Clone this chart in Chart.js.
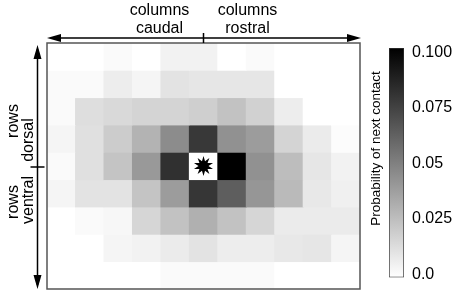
<!DOCTYPE html>
<html lang="en">
  <head>
    <meta charset="utf-8" />
    <title>Probability of next contact</title>
    <style>
      * {
        margin: 0;
        padding: 0;
      }
      body {
        width: 454px;
        height: 295px;
        background: #fff;
        position: relative;
        overflow: hidden;
      }
      #heat {
        position: absolute;
        left: 0;
        top: 0;
      }
      #colorbar {
        position: absolute;
        left: 366px;
        top: 0;
      }
    </style>
  </head>
  <body>
    <canvas id="heat" width="454" height="295"></canvas>
    <canvas id="colorbar" width="88" height="295"></canvas>

    <script src="https://cdn.jsdelivr.net/npm/chart.js"></script>

    <script>
      // data block: columns caudal -> rostral, rows dorsal -> ventral
      const columns = ["-5", "-4", "-3", "-2", "-1", "0", "1", "2", "3", "4", "5"];
      const rowNames = ["4", "3", "2", "1", "0", "-1", "-2", "-3", "-4"];

      const p0 = [0, 0, 0.002, 0, 0.005, 0.005, 0, 0.002, 0, 0, 0];
      const p1 = [0.002, 0.002, 0.007, 0.004, 0.011, 0.01, 0.01, 0.01, 0, 0, 0];
      const p2 = [0.002, 0.013, 0.015, 0.017, 0.017, 0.019, 0.024, 0.018, 0.007, 0, 0];
      const p3 = [0.004, 0.012, 0.02, 0.03, 0.045, 0.078, 0.043, 0.039, 0.017, 0.008, 0.001];
      const p4 = [0.002, 0.012, 0.023, 0.04, 0.081, null, 0.1, 0.043, 0.026, 0.01, 0.005];
      const p5 = [0.004, 0.011, 0.011, 0.023, 0.039, 0.079, 0.063, 0.041, 0.027, 0.009, 0.006];
      const p6 = [0, 0.002, 0.003, 0.016, 0.024, 0.031, 0.024, 0.016, 0.008, 0.008, 0.008];
      const p7 = [0, 0, 0.004, 0.005, 0.008, 0.011, 0.007, 0.007, 0.009, 0.01, 0.004];
      const p8 = [0, 0, 0, 0, 0.002, 0.002, 0.002, 0.002, 0, 0, 0];
      const grid = [p0, p1, p2, p3, p4, p5, p6, p7, p8];

      // the recorded cell (star)
      const centerCol = 5;
      const centerRow = 4;

      const cbTicks = [0, 0.025, 0.05, 0.075, 0.1];
      const cbLabels = ["0.0", "0.025", "0.05", "0.075", "0.100"];
      const vMax = 0.1;
      const cbMin = -0.0013;
      const cbMax = 0.1019;

      const FONT = "'Liberation Sans', Arial, sans-serif";

      const gray = (v) => {
        if (v === null) return "#fff";
        const g = Math.round(255 * (1 - Math.min(v, vMax) / vMax));
        return `rgb(${g},${g},${g})`;
      };

      // heatmap cells: one floating-bar dataset per row
      const datasets = grid.map((vals, r) => ({
        label: rowNames[r],
        data: vals.map(() => [r, r + 1]),
        backgroundColor: vals.map(gray),
        borderWidth: 0,
        inflateAmount: 0.4,
        grouped: false,
        barPercentage: 1,
        categoryPercentage: 1,
      }));

      const drawArrowHead = (ctx, tx, ty, dx, dy) => {
        const len = 14;
        const hw = 4;
        ctx.beginPath();
        ctx.moveTo(tx, ty);
        ctx.lineTo(tx - dx * len - dy * hw, ty - dy * len + dx * hw);
        ctx.lineTo(tx - dx * len + dy * hw, ty - dy * len - dx * hw);
        ctx.closePath();
        ctx.fill();
      };

      const drawStar = (ctx, cx, cy, outer, inner, n) => {
        ctx.beginPath();
        for (let i = 0; i < n * 2; i++) {
          const r = i % 2 === 0 ? outer : inner;
          const a = -Math.PI / 2 + (i * Math.PI) / n;
          const px = cx + r * Math.cos(a);
          const py = cy + r * Math.sin(a);
          if (i === 0) ctx.moveTo(px, py);
          else ctx.lineTo(px, py);
        }
        ctx.closePath();
        ctx.fill();
      };

      // frame, star, arrows and direction labels
      const annotate = {
        id: "annotate",
        afterDraw(chart) {
          const {
            ctx,
            chartArea: { top, bottom, left, right },
            scales: { x, y },
          } = chart;
          ctx.save();

          ctx.strokeStyle = "#555";
          ctx.lineWidth = 1.5;
          ctx.strokeRect(left, top, right - left, bottom - top);

          ctx.fillStyle = "#000";
          drawStar(ctx, x.getPixelForValue(centerCol), y.getPixelForValue(centerRow + 0.5), 10, 5, 10);

          const midX = (left + right) / 2;
          const midY = (top + bottom) / 2;
          ctx.strokeStyle = "#000";
          ctx.lineWidth = 1.5;

          // columns arrow
          const ay = 38;
          ctx.beginPath();
          ctx.moveTo(left + 4, ay);
          ctx.lineTo(right - 4, ay);
          ctx.moveTo(midX, ay - 5);
          ctx.lineTo(midX, ay + 5);
          ctx.stroke();
          drawArrowHead(ctx, left, ay, -1, 0);
          drawArrowHead(ctx, right + 1, ay, 1, 0);

          // rows arrow
          const ax = 37.5;
          ctx.beginPath();
          ctx.moveTo(ax, top + 6);
          ctx.lineTo(ax, bottom - 4);
          ctx.moveTo(ax - 7, midY + 1);
          ctx.lineTo(ax + 7, midY + 1);
          ctx.stroke();
          drawArrowHead(ctx, ax, top + 2, 0, -1);
          drawArrowHead(ctx, ax, bottom, 0, 1);

          ctx.font = "16px " + FONT;
          ctx.textAlign = "center";
          ctx.textBaseline = "alphabetic";
          ctx.fillText("columns", midX - 44, 15);
          ctx.fillText("caudal", midX - 44, 33);
          ctx.fillText("columns", midX + 44, 15);
          ctx.fillText("rostral", midX + 44, 33);

          const vText = (txt, bx, cy) => {
            ctx.save();
            ctx.translate(bx, cy);
            ctx.rotate(-Math.PI / 2);
            ctx.fillText(txt, 0, 0);
            ctx.restore();
          };
          vText("rows", 18, 121);
          vText("dorsal", 33, 140);
          vText("rows", 18, 202);
          vText("ventral", 33, 200);

          ctx.restore();
        },
      };

      const heatChart = new Chart(document.getElementById("heat"), {
        type: "bar",
        data: { labels: columns, datasets: datasets },
        options: {
          responsive: false,
          animation: false,
          layout: { padding: { left: 47, top: 43, right: 94, bottom: 6 } },
          plugins: { legend: { display: false }, tooltip: { enabled: false } },
          scales: {
            x: { display: false },
            y: { display: false, min: 0, max: rowNames.length, reverse: true },
          },
        },
        plugins: [annotate],
      });

      // colorbar title
      const cbTitle = {
        id: "cbTitle",
        afterDraw(chart) {
          const { ctx, chartArea } = chart;
          ctx.save();
          ctx.fillStyle = "#000";
          ctx.font = "13.5px " + FONT;
          ctx.textAlign = "center";
          ctx.translate(14, 148.5);
          ctx.rotate(-Math.PI / 2);
          ctx.fillText("Probability of next contact", 0, 0);
          ctx.restore();
        },
      };

      const barChart = new Chart(document.getElementById("colorbar"), {
        type: "bar",
        data: {
          labels: [""],
          datasets: [
            {
              data: [[cbMin, cbMax]],
              backgroundColor: (c) => {
                const { chartArea, ctx } = c.chart;
                if (!chartArea) return "#888";
                const g = ctx.createLinearGradient(0, chartArea.bottom, 0, chartArea.top);
                g.addColorStop(0, "#fff");
                g.addColorStop(1, "#000");
                return g;
              },
              borderColor: "#333",
              borderWidth: 1,
              borderSkipped: false,
              barPercentage: 1,
              categoryPercentage: 1,
            },
          ],
        },
        options: {
          responsive: false,
          animation: false,
          layout: { padding: { top: 48, bottom: 6, left: 0, right: 0 } },
          plugins: { legend: { display: false }, tooltip: { enabled: false } },
          scales: {
            x: { display: false },
            y: {
              position: "right",
              min: cbMin,
              max: cbMax,
              afterFit: (s) => {
                s.width = 50;
              },
              afterBuildTicks: (s) => {
                s.ticks = cbTicks.map((v) => ({ value: v }));
              },
              ticks: {
                callback: (v) => cbLabels[cbTicks.indexOf(v)],
                color: "#000",
                font: { size: 16, family: FONT },
                padding: 8,
              },
              grid: { display: false, drawTicks: false },
              border: { display: false },
            },
            yl: {
              type: "linear",
              axis: "y",
              position: "left",
              afterFit: (s) => {
                s.width = 23;
              },
              ticks: { display: false },
              grid: { display: false, drawTicks: false },
              border: { display: false },
            },
          },
        },
        plugins: [cbTitle],
      });
    </script>
  </body>
</html>
